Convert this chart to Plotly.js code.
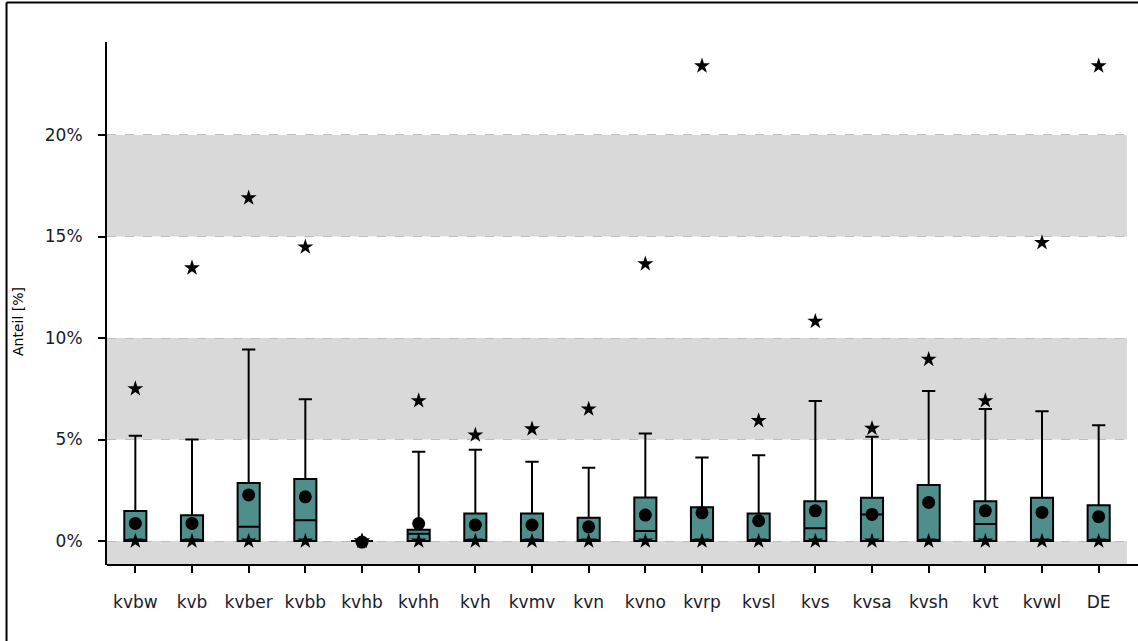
<!DOCTYPE html>
<html>
<head>
<meta charset="utf-8">
<script src="https://cdn.plot.ly/plotly-3.0.1.min.js"></script>
<style>html,body{margin:0;padding:0;background:#fff;}#chart{width:1138px;height:641px;}</style>
</head>
<body>
<div id="chart"></div>
<script>
const categories = ['kvbw','kvb','kvber','kvbb','kvhb','kvhh','kvh','kvmv','kvn','kvno','kvrp','kvsl','kvs','kvsa','kvsh','kvt','kvwl','DE'];
const q1Values     = [0,0,0,0,0,0,0,0,0,0,0,0,0,0,0,0,0,0];
const medianValues = [0,0,0.70,1.03,0,0.36,0,0,0,0.49,0,0,0.63,1.31,0,0.84,0,0];
const q3Values     = [1.48,1.27,2.86,3.05,0,0.56,1.36,1.36,1.15,2.15,1.66,1.36,1.96,2.13,2.76,1.96,2.13,1.76];
const lowerWhisker = [0,0,0,0,0,0,0,0,0,0,0,0,0,0,0,0,0,0];
const upperWhisker = [5.19,5.0,9.44,6.98,0,4.4,4.5,3.91,3.61,5.3,4.12,4.22,6.9,5.14,7.39,6.5,6.39,5.7];
const meanValues   = [0.87,0.87,2.27,2.18,-0.05,0.86,0.79,0.79,0.70,1.28,1.39,1.0,1.49,1.31,1.9,1.49,1.41,1.2];
const maxValues    = [7.5,13.45,16.9,14.48,0,6.91,5.22,5.52,6.5,13.65,23.4,5.93,10.82,5.55,8.95,6.91,14.7,23.4];
const minValues    = [0,0,0,0,0,0,0,0,0,0,0,0,0,0,0,0,0,0];
const yTickValues  = [0,5,10,15,20];
const yTickLabels  = ['0%','5%','10%','15%','20%'];
const bandRanges   = [[-5,0],[5,10],[15,20]];

const fam = 'DejaVu Sans, Verdana, sans-serif';

const traces = [
  {
    type: 'box', x: categories, q1: q1Values, median: medianValues, q3: q3Values,
    lowerfence: lowerWhisker, upperfence: upperWhisker,
    fillcolor: 'rgb(78,143,140)', line: {color: '#000', width: 2},
    width: 0.39, whiskerwidth: 0.6, boxpoints: false, showlegend: false, hoverinfo: 'skip'
  },
  {
    type: 'scatter', mode: 'markers', x: categories, y: minValues,
    marker: {symbol: 'star', size: 12, color: '#000'}, showlegend: false, hoverinfo: 'skip'
  },
  {
    type: 'scatter', mode: 'markers', x: categories, y: maxValues,
    marker: {symbol: 'star', size: 12, color: '#000'}, showlegend: false, hoverinfo: 'skip'
  },
  {
    type: 'scatter', mode: 'markers', x: categories, y: meanValues,
    marker: {symbol: 'circle', size: 13, color: '#000'}, showlegend: false, hoverinfo: 'skip'
  }
];

const shapes = bandRanges.map(r => ({
  type: 'rect', xref: 'paper', yref: 'y', x0: 0, x1: 1, y0: r[0], y1: r[1],
  fillcolor: '#d9d9d9', line: {width: 0}, layer: 'below'
}));
shapes.push({type: 'line', xref: 'paper', yref: 'paper', x0: -0.0985, x1: -0.0985, y0: -0.2, y1: 1.0755, line: {color: '#000', width: 2}});
shapes.push({type: 'line', xref: 'paper', yref: 'paper', x0: -0.0985, x1: 1.05, y0: 1.0755, y1: 1.0755, line: {color: '#000', width: 2}});
shapes.push({type: 'line', xref: 'paper', yref: 'paper', x0: 0, x1: 1.02, y0: 0, y1: 0, line: {color: '#000', width: 2}});

const layout = {
  width: 1138, height: 641,
  margin: {l: 107, r: 11, t: 42, b: 76},
  paper_bgcolor: '#fff', plot_bgcolor: 'rgba(0,0,0,0)',
  font: {family: fam, size: 17, color: '#000'},
  showlegend: false,
  xaxis: {
    type: 'category', range: [-0.5, 17.5], showgrid: false, zeroline: false,
    showline: false, ticks: 'outside', ticklen: 7, tickwidth: 2, tickcolor: '#000',
    tickfont: {family: fam, size: 17, color: '#1a1a2e'}, ticklabelstandoff: 15, fixedrange: true
  },
  yaxis: {
    range: [-1.18, 24.58], tickmode: 'array', tickvals: yTickValues, ticktext: yTickLabels,
    showgrid: true, gridcolor: '#bdbdbd', griddash: 'dash', gridwidth: 1,
    zeroline: false, showline: true, linecolor: '#000', linewidth: 2,
    ticks: 'outside', ticklen: 7, tickwidth: 2, tickcolor: '#000',
    tickfont: {family: fam, size: 17, color: '#1a1a2e'}, ticklabelstandoff: 12,
    fixedrange: true
  },
  annotations: [{
    xref: 'paper', yref: 'paper', x: (18 - 107) / 1020, y: (565 - 322) / 523,
    text: 'Anteil [%]', textangle: -90, showarrow: false,
    xanchor: 'center', yanchor: 'middle',
    font: {family: fam, size: 14, color: '#000'}
  }],
  shapes: shapes
};

Plotly.newPlot('chart', traces, layout, {staticPlot: true, displayModeBar: false});
</script>
</body>
</html>
